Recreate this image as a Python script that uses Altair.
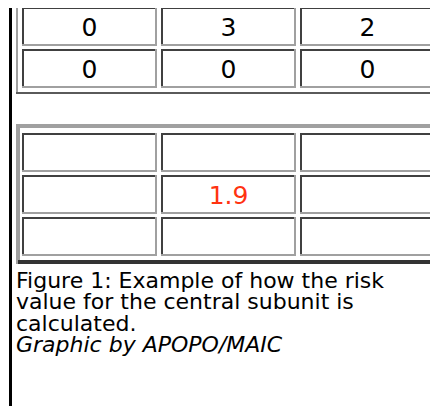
import altair as alt
import pandas as pd

# ---- data -------------------------------------------------------------
COLUMNS = [0, 1, 2]
TOP_ROWS = [0, 1]
TOP_VALUES = [["0", "3", "2"],
              ["0", "0", "0"]]
BOTTOM_ROWS = [3, 4, 5]
BOTTOM_VALUES = [["", "", ""],
                 ["", "1.9", ""],
                 ["", "", ""]]
CAPTION_LINES = ["Figure 1: Example of how the risk",
                 "value for the central subunit is",
                 "calculated.",
                 "Graphic by APOPO/MAIC"]
CAPTION_STYLES = ["normal", "normal", "normal", "italic"]

records = []
for table, rows, values in (("top", TOP_ROWS, TOP_VALUES),
                            ("bottom", BOTTOM_ROWS, BOTTOM_VALUES)):
    for r, rowvals in zip(rows, values):
        for c, v in zip(COLUMNS, rowvals):
            records.append(dict(table=table, row=r, row2=r + 1,
                                rowmid=r + 0.5, col=c, col2=c + 1,
                                colmid=c + 0.5, label=v,
                                colour="#ff3311" if table == "bottom" else "#000000"))
cells = pd.DataFrame(records)

caption_df = pd.DataFrame({"line": list(range(len(CAPTION_LINES))),
                           "text": CAPTION_LINES,
                           "style": CAPTION_STYLES})

# ---- scales -----------------------------------------------------------
W, H = 422, 398
xs = alt.Scale(domain=[0, 3], range=[12, 429], nice=False, zero=False)
ys = alt.Scale(domain=[0, 6], range=[-2, 250], nice=False, zero=False)
cap_ys = alt.Scale(domain=[0, 3], range=[280, 344], nice=False, zero=False)

LIGHT = "#a0a0a0"
DARK = "#404040"

base = alt.Chart(cells).encode(
    x=alt.X("col:Q", scale=xs, axis=None),
    x2="col2:Q",
    y=alt.Y("row:Q", scale=ys, axis=None),
    y2="row2:Q",
)

cell_light = base.mark_rect(color=LIGHT, xOffset=2, x2Offset=-2, yOffset=1, y2Offset=-2)
cell_dark = base.mark_rect(color=DARK, xOffset=2, x2Offset=-4, yOffset=1, y2Offset=-4)
cell_white = base.mark_rect(color="#ffffff", xOffset=4, x2Offset=-4, yOffset=3, y2Offset=-4)

cell_text = alt.Chart(cells).mark_text(
    font="Verdana, DejaVu Sans", fontSize=25, align="center", baseline="middle", dy=1
).encode(
    x=alt.X("colmid:Q", scale=xs, axis=None),
    y=alt.Y("rowmid:Q", scale=ys, axis=None),
    text="label:N",
    color=alt.Color("colour:N", scale=None),
)

one = alt.Data(values=[{"k": 1}])


def frame(x, x2, y, y2, colour):
    return alt.Chart(one).mark_rect(color=colour).encode(
        x=alt.value(x), x2=alt.value(x2), y=alt.value(y), y2=alt.value(y2))


frames = [
    frame(1, 4, 0, H, "#000000"),         # black page rule
    frame(8, 10, 0, 86, LIGHT),           # top table left border
    frame(8, W, 84, 86, "#5a5a5a"),       # top table bottom border
    frame(8, W, 116, 120, LIGHT),         # bottom table top border
    frame(8, 12, 116, 256, LIGHT),        # bottom table left border
    frame(10, W, 252, 256, "#333333"),    # bottom table bottom border
]

grid = alt.layer(*frames, cell_light, cell_dark, cell_white, cell_text)

cap_base = alt.Chart(caption_df).encode(
    x=alt.value(8),
    y=alt.Y("line:Q", scale=cap_ys, axis=None),
    text="text:N",
)
caption_normal = cap_base.transform_filter(alt.datum.style == "normal").mark_text(
    font="Verdana, DejaVu Sans", fontSize=22, align="left",
    baseline="alphabetic", color="#000000")
caption_italic = cap_base.transform_filter(alt.datum.style == "italic").mark_text(
    font="Verdana, DejaVu Sans", fontSize=22, align="left",
    baseline="alphabetic", fontStyle="italic", color="#000000")

caption = alt.layer(caption_normal, caption_italic)

chart = alt.layer(grid, caption).resolve_scale(y="independent").properties(
    width=W, height=H, padding=0, autosize=alt.AutoSizeParams(type="none"),
    background="#ffffff"
).configure_view(stroke=None)

chart.save("out.html", embed_options={"renderer": "svg", "actions": False})
